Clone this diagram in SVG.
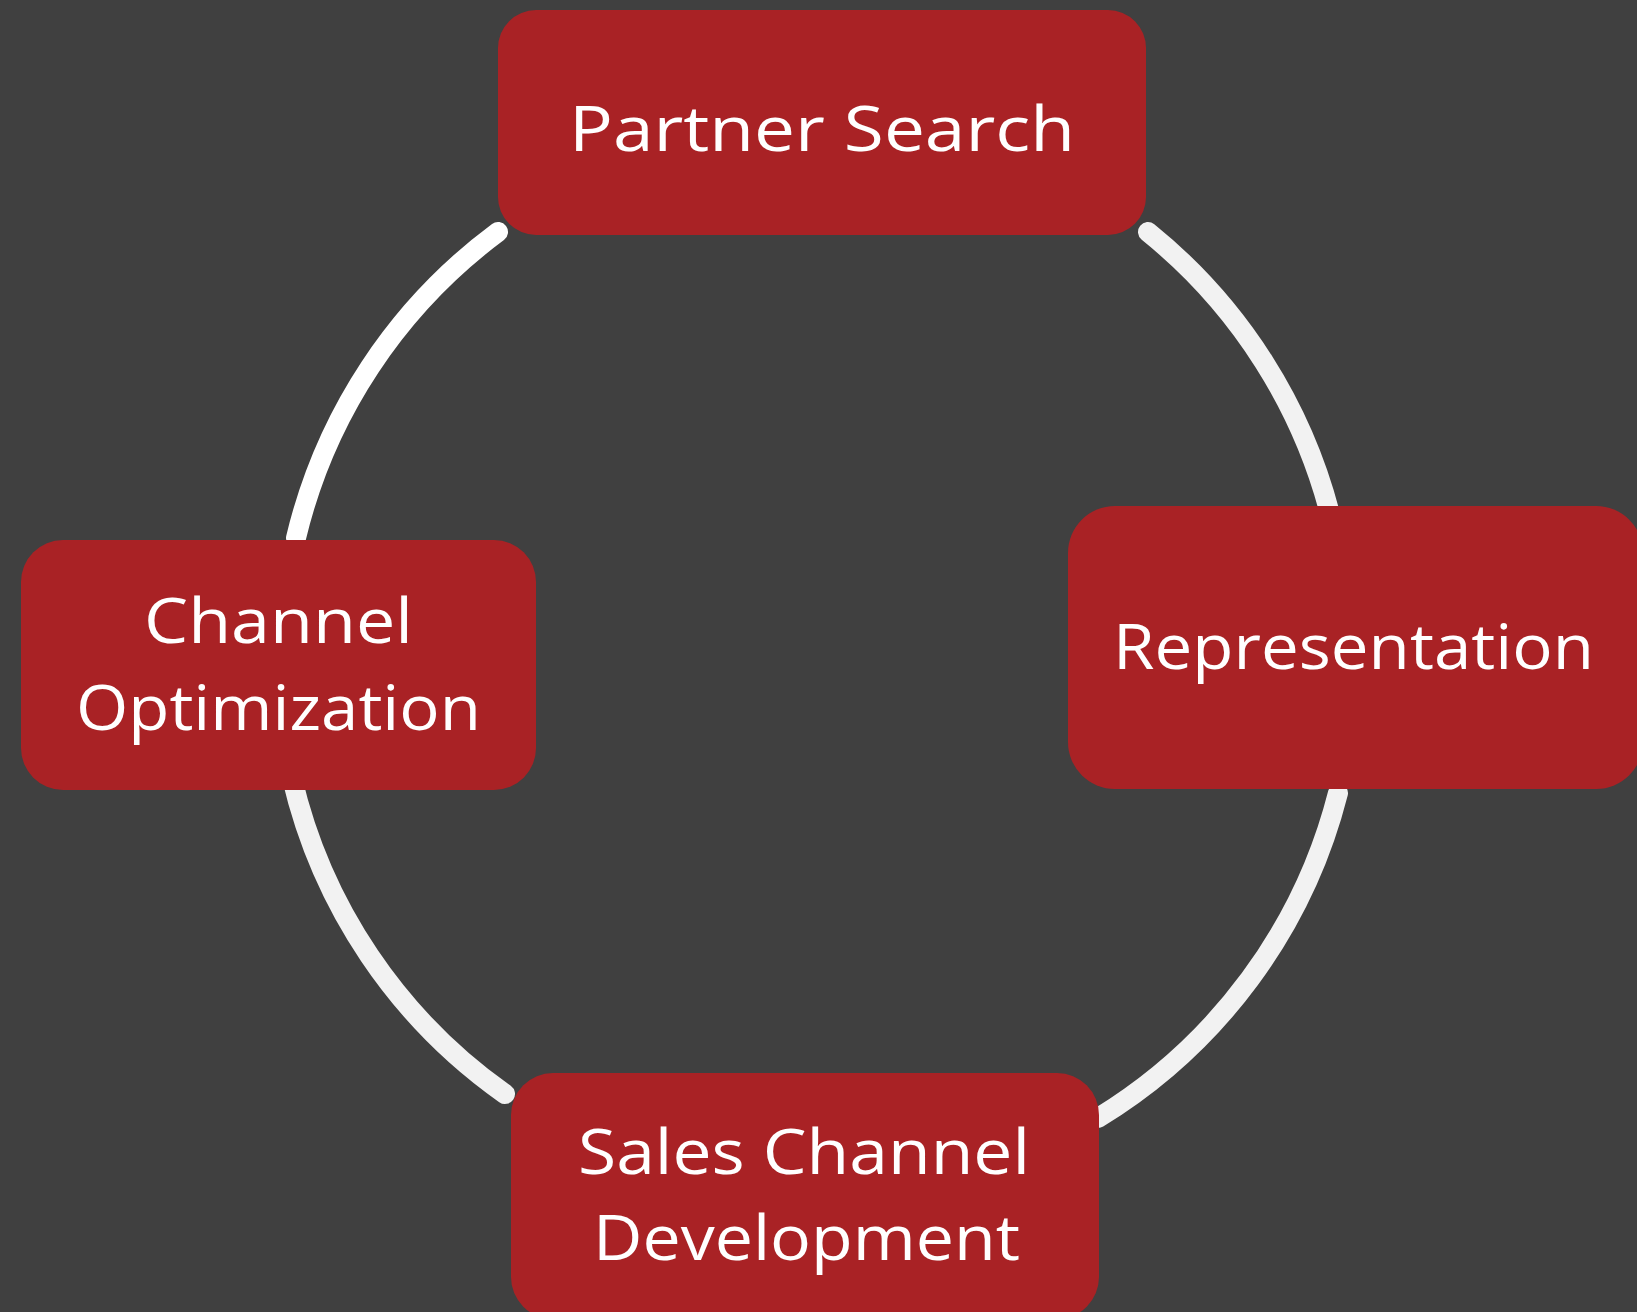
<svg xmlns="http://www.w3.org/2000/svg" width="1637" height="1312" viewBox="0 0 1637 1312">
  <style>
    .node rect { fill: #A92225; }
    .node text { fill: #FFFFFF; font-family: "Open Sans", "Liberation Sans", sans-serif; font-size: 62px; font-weight: 400; }
    .arc { fill: none; stroke: #F2F2F2; stroke-width: 20; stroke-linecap: round; }
  </style>
  <rect x="0" y="0" width="1637" height="1312" fill="#404040"/>

  <!-- cycle connectors: four arcs of one ring -->
  <g id="connectors">
    <path class="arc" style="stroke:#FFFFFF" d="M 498 232 A 535 535 0 0 0 296 538"/>
    <path class="arc" d="M 1148 232 A 535 535 0 0 1 1332 522"/>
    <path class="arc" d="M 1338 793 A 535 535 0 0 1 1098 1118"/>
    <path class="arc" d="M 292 778 A 535 535 0 0 0 505 1094"/>
  </g>

  <g id="partner-search" class="node">
    <rect x="498" y="10" width="648" height="225" rx="38" ry="38"/>
    <text x="569" y="151" font-size="70" textLength="506" lengthAdjust="spacingAndGlyphs">Partner Search</text>
  </g>

  <g id="representation" class="node">
    <rect x="1068" y="506" width="575" height="283" rx="47" ry="47"/>
    <text x="1113" y="669" textLength="481" lengthAdjust="spacingAndGlyphs">Representation</text>
  </g>

  <g id="sales-channel-development" class="node">
    <rect x="511" y="1073" width="588" height="246" rx="42" ry="42"/>
    <text x="578" y="1174" textLength="452" lengthAdjust="spacingAndGlyphs">Sales Channel</text>
    <text x="593" y="1260" textLength="427" lengthAdjust="spacingAndGlyphs">Development</text>
  </g>

  <g id="channel-optimization" class="node">
    <rect x="21" y="540" width="515" height="250" rx="42" ry="42"/>
    <text x="144" y="643" textLength="269" lengthAdjust="spacingAndGlyphs">Channel</text>
    <text x="76" y="730" textLength="405" lengthAdjust="spacingAndGlyphs">Optimization</text>
  </g>
</svg>
